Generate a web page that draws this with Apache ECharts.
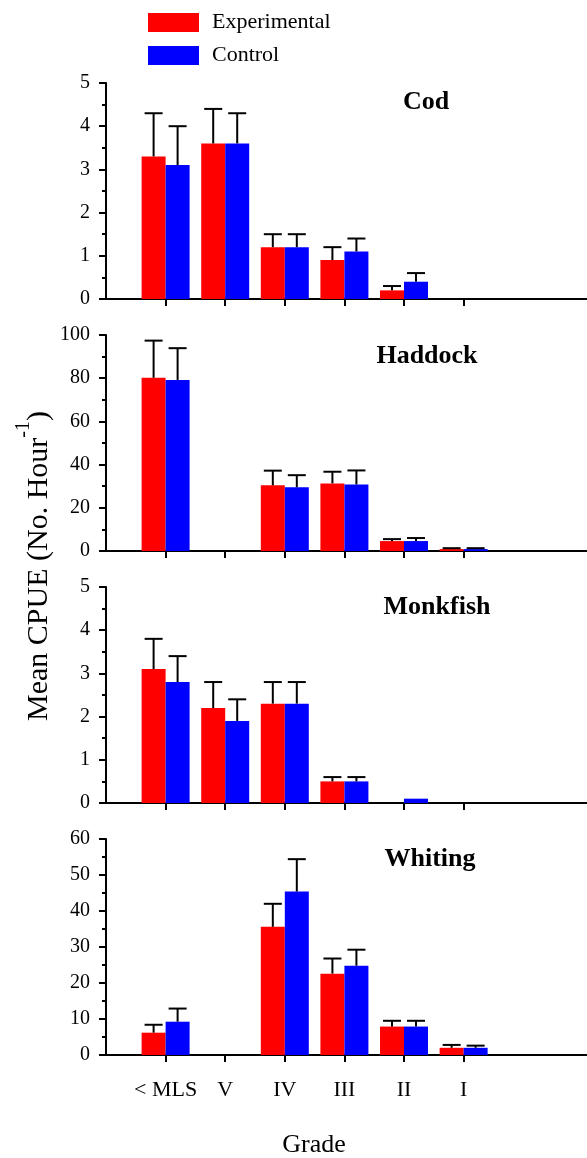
<!DOCTYPE html>
<html>
<head>
<meta charset="utf-8">
<script src="https://cdn.jsdelivr.net/npm/echarts@6/dist/echarts.min.js"></script>
<style>
html,body{margin:0;padding:0;background:#fff;}
#chart{width:587px;height:1158px;}
</style>
</head>
<body>
<div id="chart"></div>
<script>
// ---- data ----
const grades = ['< MLS', 'V', 'IV', 'III', 'II', 'I'];
const gradePos = [1, 2, 3, 4, 5, 6];
const species = ['Cod', 'Haddock', 'Monkfish', 'Whiting'];
const seriesNames = ['Experimental', 'Control'];

const codExp = [3.3, 3.6, 1.2, 0.9, 0.2, 0];
const codExpUpper = [4.3, 4.4, 1.5, 1.2, 0.3, null];
const codCtrl = [3.1, 3.6, 1.2, 1.1, 0.4, 0];
const codCtrlUpper = [4.0, 4.3, 1.5, 1.4, 0.6, null];

const haddockExp = [80.2, 0, 30.4, 31.3, 4.6, 0.9];
const haddockExpUpper = [97.4, null, 37.2, 36.7, 5.5, 1.3];
const haddockCtrl = [79.2, 0, 29.5, 30.8, 4.6, 0.9];
const haddockCtrlUpper = [93.9, null, 35.1, 37.3, 6.0, 1.3];

const monkExp = [3.1, 2.2, 2.3, 0.5, 0, 0];
const monkExpUpper = [3.8, 2.8, 2.8, 0.6, null, null];
const monkCtrl = [2.8, 1.9, 2.3, 0.5, 0.1, 0];
const monkCtrlUpper = [3.4, 2.4, 2.8, 0.6, null, null];

const whitingExp = [6.2, 0, 35.6, 22.6, 7.9, 2.0];
const whitingExpUpper = [8.4, null, 42.0, 26.8, 9.5, 2.8];
const whitingCtrl = [9.25, 0, 45.4, 24.8, 7.9, 2.0];
const whitingCtrlUpper = [12.9, null, 54.4, 29.25, 9.5, 2.6];

const yMax = [5, 100, 5, 60];
const yInterval = [1, 20, 1, 10];

// ---- layout / style ----
const FONT = "'Liberation Serif', 'Times New Roman', serif";
const expData = [codExp, haddockExp, monkExp, whitingExp];
const expUp = [codExpUpper, haddockExpUpper, monkExpUpper, whitingExpUpper];
const ctrlData = [codCtrl, haddockCtrl, monkCtrl, whitingCtrl];
const ctrlUp = [codCtrlUpper, haddockCtrlUpper, monkCtrlUpper, whitingCtrlUpper];

const gridTops = [83, 335, 587, 839];
const gridH = 216;
const barW = 24;
const capHalf = 9;
const xMax = 8.07;
const speciesPos = [[426, 102], [427, 356], [437, 607], [430, 859]];

const grids = [], xAxes = [], yAxes = [], series = [];

function errSeries(k, means, uppers, offset) {
  const data = [];
  means.forEach((m, i) => { if (uppers[i] != null) data.push([gradePos[i], m, uppers[i]]); });
  return {
    type: 'custom', xAxisIndex: k, yAxisIndex: k, z: 5, silent: true,
    name: 'err' + k + offset,
    encode: { x: 0, y: [1, 2] },
    data: data,
    renderItem: function (params, api) {
      const p0 = api.coord([api.value(0), api.value(1)]);
      const p1 = api.coord([api.value(0), api.value(2)]);
      const cx = p0[0] + offset;
      const st = { stroke: '#000', lineWidth: 2 };
      return {
        type: 'group', children: [
          { type: 'line', shape: { x1: cx, y1: p0[1], x2: cx, y2: p1[1] }, style: st },
          { type: 'line', shape: { x1: cx - capHalf, y1: p1[1], x2: cx + capHalf, y2: p1[1] }, style: st }
        ]
      };
    }
  };
}

for (let k = 0; k < 4; k++) {
  grids.push({ left: 106, right: 0, top: gridTops[k], height: gridH });
  xAxes.push({
    type: 'value', gridIndex: k, min: 0, max: xMax, interval: 1,
    axisLine: { show: true, onZero: false, lineStyle: { color: '#000', width: 2 } },
    axisTick: { show: true, length: 7, customValues: gradePos, lineStyle: { color: '#000', width: 2 } },
    axisLabel: {
      show: k === 3, customValues: gradePos, color: '#000', fontFamily: FONT, fontSize: 22, margin: 24,
      formatter: function (v) { return grades[Math.round(v) - 1] || ''; }
    },
    splitLine: { show: false }
  });
  yAxes.push({
    type: 'value', gridIndex: k, min: 0, max: yMax[k], interval: yInterval[k],
    axisLine: { show: true, lineStyle: { color: '#000', width: 2 } },
    axisTick: { show: true, length: 7, lineStyle: { color: '#000', width: 2 } },
    minorTick: { show: true, splitNumber: 2, length: 4, lineStyle: { color: '#000', width: 2 } },
    axisLabel: { color: '#000', fontFamily: FONT, fontSize: 20, margin: 16 },
    splitLine: { show: false }
  });
  series.push({
    type: 'bar', name: seriesNames[0], xAxisIndex: k, yAxisIndex: k,
    barWidth: barW, barGap: '0%', itemStyle: { color: '#ff0000' },
    data: expData[k].map((v, i) => [gradePos[i], v])
  });
  series.push({
    type: 'bar', name: seriesNames[1], xAxisIndex: k, yAxisIndex: k,
    barWidth: barW, barGap: '0%', itemStyle: { color: '#0000ff' },
    data: ctrlData[k].map((v, i) => [gradePos[i], v])
  });
  series.push(errSeries(k, expData[k], expUp[k], -barW / 2));
  series.push(errSeries(k, ctrlData[k], ctrlUp[k], barW / 2));
}

const graphics = species.map((s, k) => ({
  type: 'text', x: speciesPos[k][0], y: speciesPos[k][1],
  style: { text: s, fill: '#000', font: 'bold 26px ' + FONT, align: 'center', verticalAlign: 'middle' }
}));
graphics.push({
  type: 'text', x: 314, y: 1145,
  style: { text: 'Grade', fill: '#000', font: '26px ' + FONT, align: 'center', verticalAlign: 'middle' }
});
graphics.push({
  type: 'text', x: 34, y: 566, rotation: Math.PI / 2,
  style: {
    text: '{a|Mean CPUE (No. Hour}{s|-1}{a|)}', fill: '#000', align: 'center', verticalAlign: 'middle',
    rich: {
      a: { fontFamily: FONT, fontSize: 30, lineHeight: 40, verticalAlign: 'bottom', fill: '#000' },
      s: { fontFamily: FONT, fontSize: 20, lineHeight: 20, verticalAlign: 'top', fill: '#000' }
    }
  }
});

const chart = echarts.init(document.getElementById('chart'), null, { renderer: 'canvas' });
chart.setOption({
  animation: false,
  backgroundColor: '#fff',
  legend: {
    data: seriesNames, orient: 'vertical', left: 148, top: 11.5, padding: 0,
    itemWidth: 51, itemHeight: 19, itemGap: 11, icon: 'rect',
    textStyle: { color: '#000', fontFamily: FONT, fontSize: 22, lineHeight: 22, padding: [0, 0, 0, 8] }
  },
  grid: grids, xAxis: xAxes, yAxis: yAxes, series: series, graphic: graphics
});
</script>
</body>
</html>
